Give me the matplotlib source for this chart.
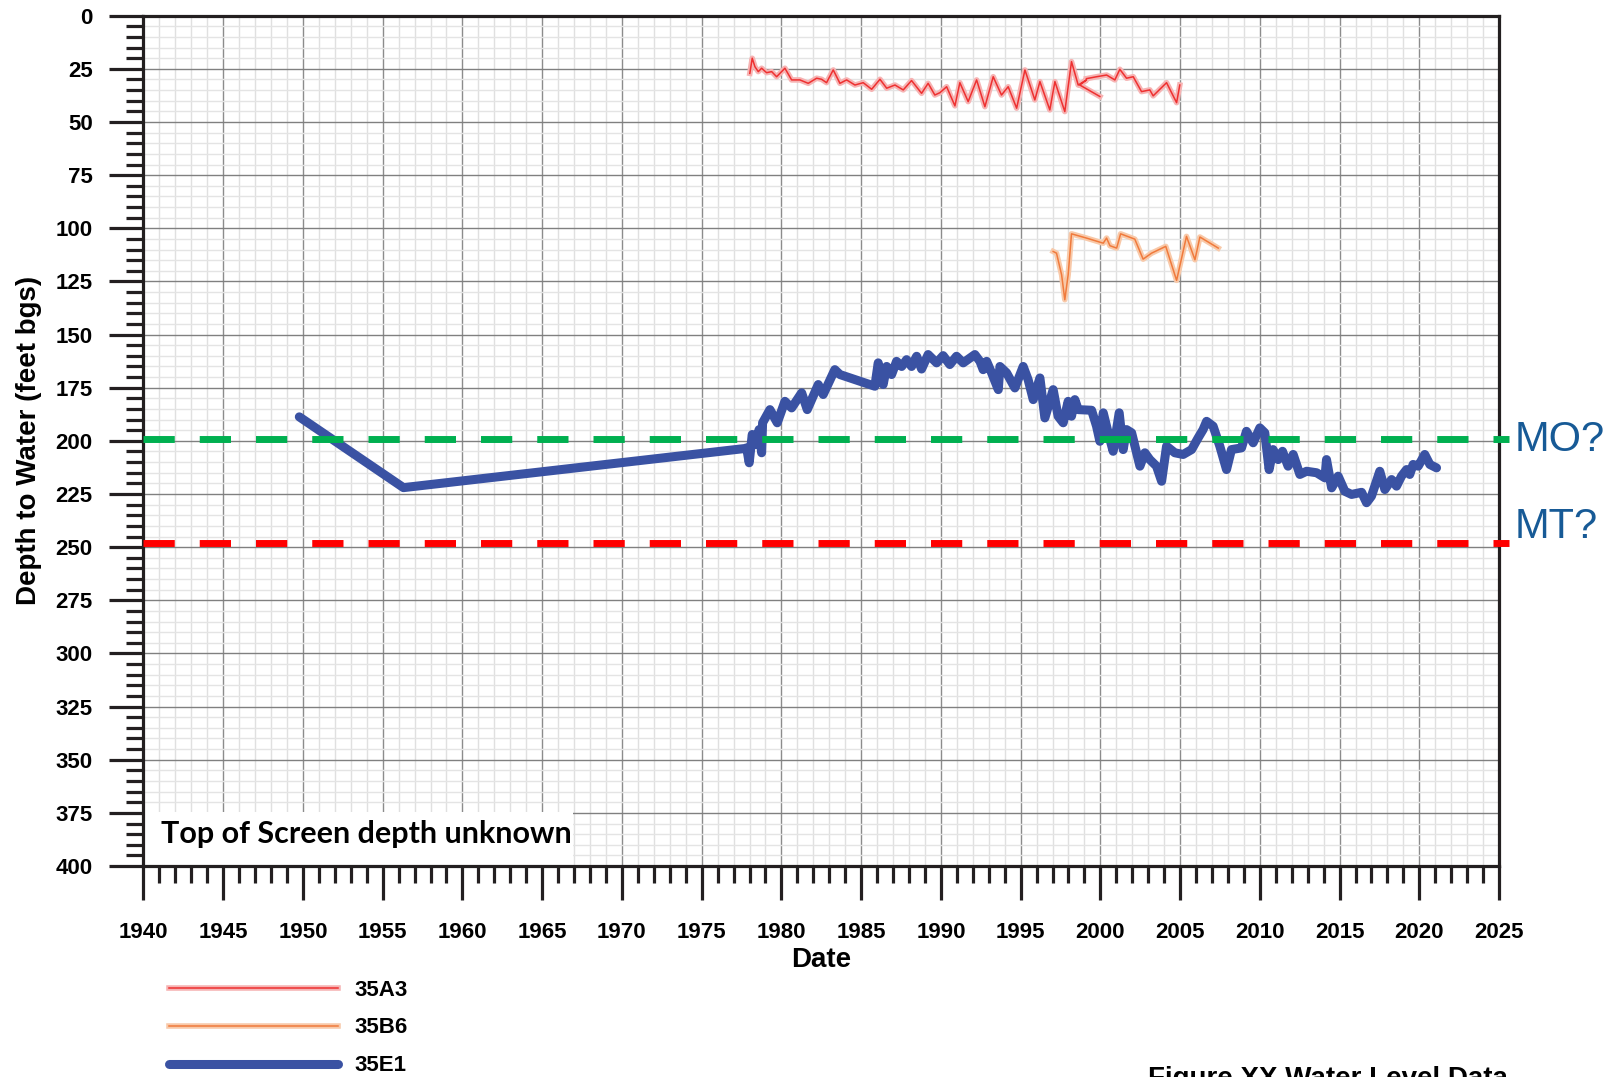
import numpy as np
import matplotlib
matplotlib.use("Agg")
import matplotlib.pyplot as plt
import matplotlib.patheffects as pe
from matplotlib.patches import Rectangle
from matplotlib.ticker import MultipleLocator

plt.rcParams['font.family'] = ['Liberation Sans', 'DejaVu Sans']
plt.rcParams['font.weight'] = 'bold'

# 35E1 - depth to water (feet bgs)
e1_year = [1949.77, 1956.30, 1977.70, 1977.82, 1977.98, 1978.17, 1978.34, 1978.60, 1978.76, 1978.82,
           1979.28, 1979.74, 1980.22, 1980.64, 1981.27, 1981.62, 1982.31, 1982.62, 1983.35, 1983.67,
           1985.86, 1986.07, 1986.38, 1986.60, 1986.91, 1987.22, 1987.54, 1987.85, 1988.16, 1988.48,
           1988.79, 1989.20, 1989.73, 1990.14, 1990.56, 1990.98, 1991.40, 1992.13, 1992.45, 1992.65,
           1992.87, 1993.18, 1993.60, 1993.70, 1994.12, 1994.64, 1995.16, 1995.47, 1995.79, 1996.21,
           1996.52, 1997.04, 1997.35, 1997.67, 1997.98, 1998.19, 1998.40, 1998.61, 1999.45, 1999.76,
           1999.97, 2000.18, 2000.49, 2000.80, 2001.18, 2001.43, 2001.64, 2001.96, 2002.48, 2002.79,
           2003.10, 2003.52, 2003.84, 2004.15, 2004.67, 2005.19, 2005.72, 2006.13, 2006.44, 2006.66,
           2007.07, 2007.49, 2007.91, 2008.22, 2008.85, 2009.16, 2009.58, 2010.00, 2010.31, 2010.58,
           2010.83, 2011.15, 2011.42, 2011.77, 2012.09, 2012.51, 2012.93, 2013.56, 2014.08, 2014.18,
           2014.50, 2014.91, 2015.33, 2015.75, 2016.38, 2016.69, 2017.00, 2017.52, 2017.84, 2018.26,
           2018.57, 2018.88, 2019.20, 2019.40, 2019.61, 2019.93, 2020.34, 2020.66, 2021.08]
e1_depth = [188.7, 222.0, 203.6, 203.3, 210.3, 197.0, 201.7, 194.7, 205.6, 191.5,
            185.3, 191.5, 181.4, 184.5, 177.4, 185.3, 173.5, 178.2, 166.5, 168.8,
            174.3, 163.3, 173.5, 165.0, 168.8, 162.6, 165.0, 161.8, 165.0, 160.2,
            166.2, 159.4, 163.3, 159.9, 164.1, 160.2, 163.3, 159.4, 162.6, 166.5,
            162.6, 168.0, 175.9, 165.0, 168.0, 175.1, 165.0, 171.2, 180.6, 170.4,
            189.2, 175.9, 188.4, 191.5, 181.4, 188.4, 180.6, 185.3, 185.6, 193.1,
            200.2, 186.8, 196.2, 204.9, 186.8, 204.1, 194.7, 196.2, 211.9, 205.6,
            208.8, 211.9, 219.0, 202.5, 205.6, 206.4, 204.1, 198.6, 194.7, 190.8,
            193.1, 202.5, 213.5, 204.1, 203.3, 195.5, 200.9, 193.9, 196.2, 213.5,
            204.1, 208.8, 204.9, 211.9, 206.4, 215.8, 214.3, 215.0, 217.4, 208.8,
            222.1, 216.6, 223.7, 225.2, 224.2, 229.1, 226.0, 214.3, 222.9, 218.2,
            221.3, 216.6, 213.5, 215.8, 211.1, 211.9, 206.4, 211.1, 212.7]

# 35A3 (record has a gap / overlap around 1999)
a3_year = [1978.02, 1978.17, 1978.34, 1978.55, 1978.76, 1979.07, 1979.39, 1979.70, 1980.22, 1980.64,
           1981.16, 1981.68, 1982.21, 1982.52, 1982.83, 1983.25, 1983.67, 1984.09, 1984.61, 1985.13,
           1985.66, 1986.18, 1986.60, 1987.12, 1987.64, 1988.16, 1988.79, 1989.20, 1989.62, 1989.94,
           1990.36, 1990.88, 1991.19, 1991.71, 1992.24, 1992.76, 1993.28, 1993.80, 1994.22, 1994.75,
           1995.27, 1995.89, 1996.21, 1996.83, 1997.15, 1997.77, 1998.19, 1998.61, 1999.13, 1998.71,
           1999.97, np.nan,
           1999.13, 1999.76, 2000.39, 2000.91, 2001.22, 2001.64, 2002.06, 2002.58, 2003.10, 2003.31,
           2004.15, 2004.78, 2004.98]
a3_depth = [27.1, 20.0, 24.0, 26.3, 24.7, 26.8, 26.3, 28.7, 24.7, 30.2,
            30.2, 31.8, 29.4, 29.9, 31.5, 25.5, 31.8, 30.2, 32.6, 31.5,
            34.6, 29.9, 34.1, 32.6, 34.9, 30.5, 36.5, 31.8, 37.3, 36.2,
            33.4, 42.4, 31.5, 40.4, 30.2, 42.8, 28.7, 37.3, 33.4, 43.5,
            25.5, 39.6, 31.0, 44.3, 31.0, 45.1, 21.6, 32.6, 30.2, 32.6,
            38.0, np.nan,
            29.6, 28.7, 27.9, 30.2, 25.2, 29.4, 28.7, 35.7, 34.9, 37.7,
            31.5, 40.9, 32.6]

# 35B6
b6_year = [1997.04, 1997.25, 1997.57, 1997.77, 1997.98, 1998.19, 1999.13, 2000.18, 2000.39, 2000.60,
           2001.02, 2001.27, 2002.16, 2002.68, 2003.21, 2004.10, 2004.78, 2005.40, 2005.93, 2006.24,
           2007.39]
b6_depth = [110.9, 111.7, 121.9, 133.6, 121.9, 102.6, 104.6, 107.0, 104.6, 108.2,
            109.3, 102.6, 105.1, 114.5, 111.7, 108.5, 124.5, 103.8, 114.8, 104.1,
            109.3]

mo_level = 199
mt_level = 248
line_span = [1940, 2025.6]

fig = plt.figure(figsize=(16.05, 10.77), dpi=100)
ax = fig.add_axes([0.0894, 0.1959, 0.8446, 0.7895])

ax.set_xlim(1940, 2025)
ax.set_ylim(400, 0)
ax.xaxis.set_major_locator(MultipleLocator(5))
ax.xaxis.set_minor_locator(MultipleLocator(1))
ax.yaxis.set_major_locator(MultipleLocator(25))
ax.yaxis.set_minor_locator(MultipleLocator(5))

# grid
ax.set_axisbelow(True)
ax.grid(which='minor', axis='x', color='#e0e0e0', lw=1.0)
ax.grid(which='major', axis='x', color='#8c8c8c', lw=1.0)
ax.grid(which='minor', axis='y', color='#e4e4e4', lw=1.0)
ax.grid(which='major', axis='y', color='#808080', lw=1.0)

for s in ax.spines.values():
    s.set_linewidth(2.3)
    s.set_color('#231f20')

ax.tick_params(which='both', direction='out', color='#231f20', width=2.3, labelsize=16)
ax.tick_params(which='major', length=24.5)
ax.tick_params(which='minor', length=12.5)
ax.tick_params(axis='y', pad=12)
ax.tick_params(axis='x', pad=16)

# lines
halo_red = [pe.Stroke(linewidth=4, foreground='#f6b3b3'), pe.Normal()]
halo_orange = [pe.Stroke(linewidth=4, foreground='#f8c9a9'), pe.Normal()]
l_a3, = ax.plot(a3_year, a3_depth, color='#ee3030', lw=1.1, path_effects=halo_red, zorder=3, label='35A3')
l_b6, = ax.plot(b6_year, b6_depth, color='#f07a3c', lw=1.1, path_effects=halo_orange, zorder=3, label='35B6')
l_e1, = ax.plot(e1_year, e1_depth, color='#3a52a3', lw=6.5, solid_capstyle='round',
                solid_joinstyle='round', zorder=4, label='35E1')

ax.plot(line_span, [mo_level, mo_level], color='#00b050', lw=5, dashes=(4.5, 3.6),
        clip_on=False, zorder=5)
ax.plot(line_span, [mt_level, mt_level], color='#ff0000', lw=5, dashes=(4.5, 3.6),
        clip_on=False, zorder=5)

ax.set_xlabel('Date', fontsize=20, fontweight='bold')
ax.set_ylabel('Depth to Water (feet bgs)', fontsize=20, fontweight='bold')
ax.xaxis.set_label_coords(0.5, -0.11)
ax.xaxis.label.set_va('center')
ax.yaxis.set_label_coords(-0.0845, 0.5)
ax.yaxis.label.set_va('center')

# note box
ax.add_patch(Rectangle((0, 0), 0.317, 0.064, transform=ax.transAxes, facecolor='white',
                       edgecolor='none', zorder=2.5))
note = ax.text(0.0129, 0.027, 'Top of Screen depth unknown', transform=ax.transAxes,
               family=['Lato', 'DejaVu Sans'], fontweight='bold', fontsize=20,
               va='baseline', ha='left', zorder=6)
fig.canvas.draw()
w = note.get_window_extent().width
note.set_fontsize(20 * 410 / w)

fig.text(0.944, 0.5915, 'MO?', fontsize=30, fontweight='normal', color='#175a96', va='center', ha='left')
fig.text(0.944, 0.5107, 'MT?', fontsize=30, fontweight='normal', color='#175a96', va='center', ha='left')

fig.text(0.7153, -0.0084, 'Figure XX Water Level Data', fontsize=20, fontweight='bold',
         va='baseline', ha='left')

fig.legend(handles=[l_a3, l_b6, l_e1], loc='upper left', bbox_to_anchor=(0.1053, 0.0905),
           frameon=False, prop={'weight': 'bold', 'size': 16}, handlelength=7.6,
           handletextpad=0.75, labelspacing=0.76, borderpad=0, borderaxespad=0)

fig.savefig('out.png', dpi=100)
